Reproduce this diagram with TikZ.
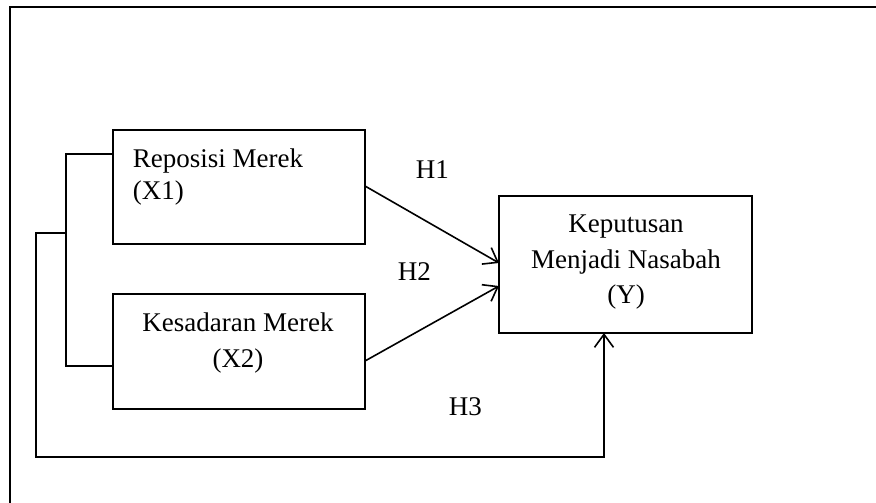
\documentclass[tikz,border=0pt]{standalone}
\usepackage{fontspec}
\setmainfont{Liberation Serif}
\usetikzlibrary{arrows.meta,calc}
\begin{document}
\begin{tikzpicture}[x=1pt,y=-1pt,line width=1.6pt,
  box/.style={draw, rectangle, inner sep=0pt, outer sep=0pt, anchor=north west},
  lbl/.style={inner sep=0pt, font=\fontsize{27}{33}\selectfont},
  arr/.style={-{Straight Barb[length=13pt,width=19pt,line width=1.6pt]}}]
\useasboundingbox (0,0) rectangle (876,503);
% frame
\coordinate (fbl) at (10,503);
\coordinate (ftl) at (10,7);
\coordinate (ftr) at (876,7);
\draw[line width=1.2pt] (fbl) -- (ftl) -- (ftr);
% boxes
\node[box, minimum width=252pt, minimum height=114pt] (x1) at (113,130) {};
\node[box, minimum width=252pt, minimum height=115pt] (x2) at (113,294) {};
\node[box, minimum width=253pt, minimum height=137pt] (y) at (499,196) {};
% texts
\node[lbl, anchor=base west] (x1a) at (132,167) {Reposisi Merek};
\node[lbl, anchor=base west] (x1b) at (132,199) {(X1)};
\node[lbl, anchor=base] (x2a) at (238,331) {Kesadaran Merek};
\node[lbl, anchor=base] (x2b) at (238,367) {(X2)};
\node[lbl, anchor=base] (ya) at (626,232) {Keputusan};
\node[lbl, anchor=base] (yb) at (626,268) {Menjadi Nasabah};
\node[lbl, anchor=base] (yc) at (626,303) {(Y)};
\node[lbl, anchor=base west] (h1) at (415,178) {H1};
\node[lbl, anchor=base west] (h2) at (397,280) {H2};
\node[lbl, anchor=base west] (h3) at (448,415) {H3};
% arrows H1, H2
\draw[arr] ($(x1.north east)+(0,56)$) -- ($(y.north west)+(0,67)$);
\draw[arr] ($(x2.north east)+(0,67)$) -- ($(y.north west)+(0,90)$);
% bracket joining X1 and X2
\coordinate (b1) at ($(x1.north west)+(-47,24)$);
\coordinate (b2) at ($(x2.north west)+(-47,72)$);
\draw ($(x1.north west)+(0,24)$) -- (b1) -- (b2) -- ($(x2.north west)+(0,72)$);
% H3 path
\coordinate (h3s) at (66,233);
\coordinate (h3c1) at (36,233);
\coordinate (h3c2) at (36,457);
\coordinate (h3c3) at (604,457);
\draw[arr] (h3s) -- (h3c1) -- (h3c2) -- (h3c3) -- ($(y.south west)+(105,0)$);
\end{tikzpicture}
\end{document}
